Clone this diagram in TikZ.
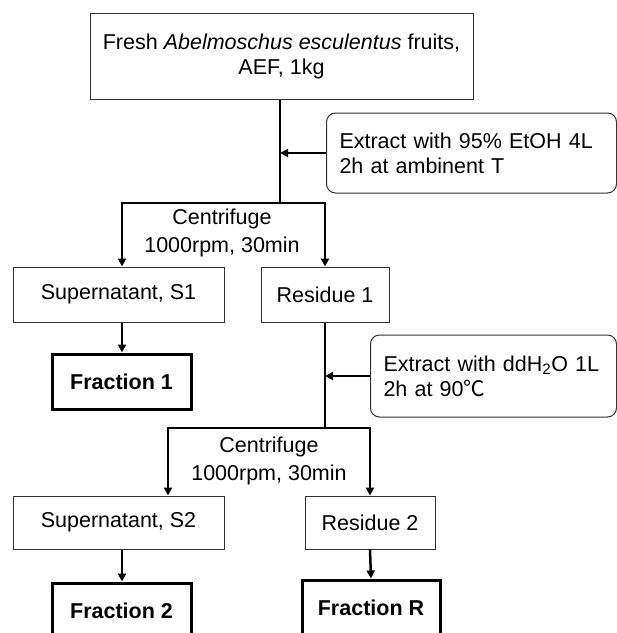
\documentclass[tikz,border=0pt]{standalone}
\usepackage{fontspec}
\setmainfont{Liberation Sans}
\newfontfamily\cjk{Noto Sans CJK SC}
\usetikzlibrary{arrows.meta}
\begin{document}
\begin{tikzpicture}[x=1pt,y=-1pt,
  every node/.style={font=\fontsize{21.5}{25}\selectfont, inner sep=0pt},
  thinbox/.style={draw=black!80, line width=1pt, align=center},
  boldbox/.style={draw=black, line width=3pt, align=center, font=\fontsize{21.5}{25}\selectfont\bfseries},
  notebox/.style={draw=black!80, line width=1pt, rounded corners=9pt, align=left, inner xsep=13pt, anchor=west},
  conn/.style={line width=2.5pt, black},
  arr/.style={conn, -{Triangle[length=8pt,width=8pt]}},
  lbl/.style={align=center, font=\fontsize{21.5}{28}\selectfont}]
\clip (0,0) rectangle (617,633);
\fill[white] (0,0) rectangle (617,633);

\node[thinbox, minimum width=383pt, minimum height=86pt] (top) at (281.5,56)
  {Fresh \textit{Abelmoschus esculentus} fruits,\\AEF, 1kg};
\node[notebox, text width=264pt, minimum height=80pt] (ex1) at (326,153)
  {Extract with 95\% EtOH 4L\\2h at ambinent T};
\node[thinbox, minimum width=211pt, minimum height=55pt] (s1) at (118.5,294.5) {Supernatant, S1};
\node[thinbox, minimum width=128pt, minimum height=55pt] (r1) at (325,294.5) {Residue 1};
\node[boldbox, minimum width=139pt, minimum height=55pt] (f1) at (121.5,381.5) {Fraction 1};
\node[notebox, text width=220pt, minimum height=82pt] (ex2) at (370,376)
  {Extract with ddH\textsubscript{2}O 1L\\2h at 90{\cjk ℃}};
\node[thinbox, minimum width=211pt, minimum height=53pt] (s2) at (118.5,522.5) {Supernatant, S2};
\node[thinbox, minimum width=130pt, minimum height=53pt] (r2) at (370,522.5) {Residue 2};
\node[boldbox, minimum width=139pt, minimum height=56pt] (f2) at (121.5,611) {Fraction 2};
\node[boldbox, minimum width=138pt, minimum height=56pt] (fr) at (371,608) {Fraction R};

\node[lbl] (c1) at (222,233) {Centrifuge\\1000rpm, 30min};
\node[lbl] (c2) at (269,461) {Centrifuge\\1000rpm, 30min};

% first stage
\coordinate (j1) at (280,203);
\coordinate (b1l) at (122,203);
\coordinate (b1r) at (325,203);
\draw[conn] (j1 |- top.south) -- (j1);
\draw[arr] (ex1.west) -- (ex1.west -| j1);
\draw[arr, line join=miter] (j1) -- (b1l) -- (b1l |- s1.north);
\draw[arr, line join=miter] (j1) -- (b1r) -- (b1r |- r1.north);
\draw[arr] (b1l |- s1.south) -- (b1l |- f1.north);

% second stage
\coordinate (j2) at (325,428);
\coordinate (b2l) at (168,428);
\coordinate (b2r) at (370,428);
\draw[conn] (r1.south) -- (j2);
\draw[arr] (ex2.west) -- (ex2.west -| j2);
\draw[arr, line join=miter] (j2) -- (b2l) -- (b2l |- s2.north);
\draw[arr, line join=miter] (j2) -- (b2r) -- (b2r |- r2.north);
\draw[arr] (b1l |- s2.south) -- (b1l |- f2.north);
\draw[arr] (r2.south) -- (fr.north);
\end{tikzpicture}
\end{document}
